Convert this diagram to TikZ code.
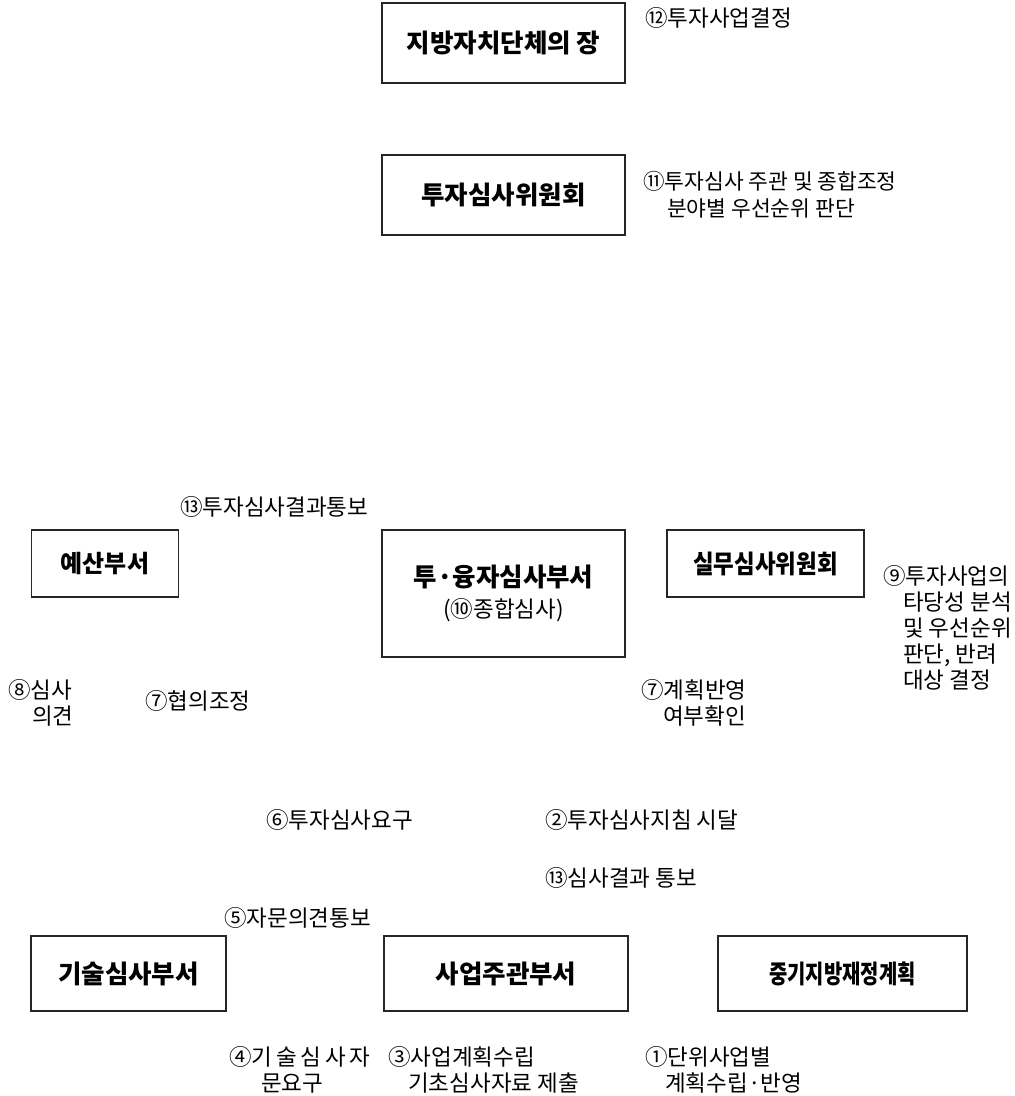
\documentclass[tikz,border=0pt]{standalone}
\usepackage{fontspec}
\setmainfont{Noto Sans CJK KR}
\usetikzlibrary{positioning}

\begin{document}
\begin{tikzpicture}[x=1pt, y=-1pt,
          box/.style={rectangle, draw=black!85, line width=1.1pt,
              inner sep=0pt, font=\fontsize{25.5}{31}\selectfont\bfseries,
              align=center},
          note/.style={anchor=west, inner sep=0pt,
              font=\fontsize{22.5}{26}\selectfont, align=left}
        ]
        \useasboundingbox (0,0) rectangle (1015,1096);
        % upper boxes
        \node[box, minimum width=243pt, minimum height=80pt]  (head)  at (503.5,43)  {지방자치단체의 장};
        \node[box, minimum width=243pt, minimum height=80pt]  (cmte)  at (503.5,195) {투자심사위원회};
        % middle row
        \node[box, minimum width=147pt, minimum height=67pt,
              font=\fontsize{24}{30}\selectfont\bfseries]  (budget) at (105,563.5)   {예산부서};
        \node[box, minimum width=243pt, minimum height=127pt] (review) at (503.5,593.5)
             {투·융자심사부서\\[0pt]{\mdseries\fontsize{22.5}{26}\selectfont (⑩종합심사)}};
        \node[box, minimum width=197pt, minimum height=67pt]  (work)   at (765.5,563.5)
             {\scalebox{0.88}[1]{실무심사위원회}};
        % lower row
        \node[box, minimum width=195pt, minimum height=75pt]  (tech)   at (128.5,973.5) {기술심사부서};
        \node[box, minimum width=244pt, minimum height=75pt]  (dept)   at (506,973.5)   {사업주관부서};
        \node[box, minimum width=249pt, minimum height=75pt]  (plan)   at (842.5,973.5)
             {\scalebox{0.78}[1]{중기지방재정계획}};

        % step notes
        \node[note] (n12) at (645,18)  {⑫투자사업결정};
        \node[note, font=\fontsize{21.5}{27}\selectfont] (n11) at (643,194.5) {⑪투자심사 주관 및 종합조정\\\hspace*{24pt}분야별 우선순위 판단};
        \node[note] (n13a) at (180,507) {⑬투자심사결과통보};
        \node[note] (n9)  at (883,628) {⑨투자사업의\\\hspace*{20pt}타당성 분석\\\hspace*{20pt}및 우선순위\\\hspace*{20pt}판단, 반려\\\hspace*{20pt}대상 결정};
        \node[note] (n8)  at (8,703)   {⑧심사\\\hspace*{24pt}의견};
        \node[note] (n7a) at (145,701) {⑦협의조정};
        \node[note] (n7b) at (641,703) {⑦계획반영\\\hspace*{22pt}여부확인};
        \node[note] (n6)  at (266,820) {⑥투자심사요구};
        \node[note] (n2)  at (545,820) {②투자심사지침 시달};
        \node[note] (n13b) at (545,878) {⑬심사결과 통보};
        \node[note] (n5)  at (224,918) {⑤자문의견통보};
        \node[note] (n4)  at (229,1070) {④기\,술\,심\,사\,자\\\hspace*{32pt}문요구};
        \node[note] (n3)  at (388,1070) {③사업계획수립\\\hspace*{20pt}기초심사자료 제출};
        \node[note] (n1)  at (645,1070) {①단위사업별\\\hspace*{20pt}계획수립·반영};
      \end{tikzpicture}
\end{document}
